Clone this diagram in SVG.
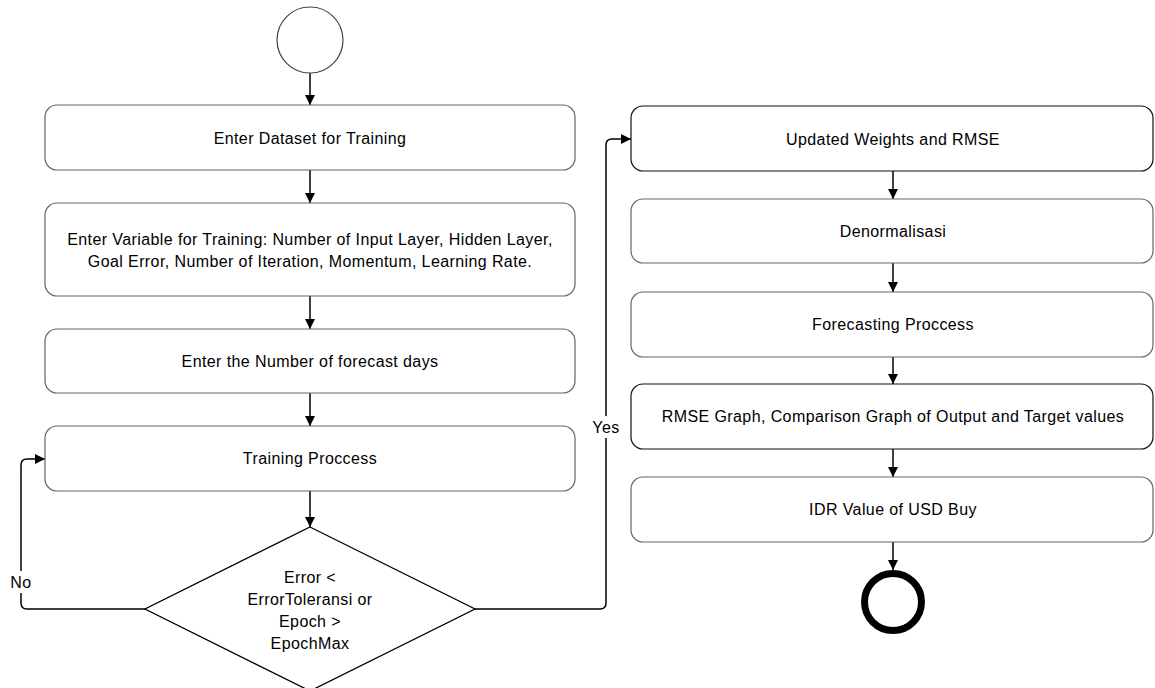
<svg xmlns="http://www.w3.org/2000/svg" width="1155" height="688" viewBox="0 0 1155 688">
<style>
.box{fill:#fff;stroke:#666;stroke-width:1.2}
.boxd{fill:#fff;stroke:#111;stroke-width:1.2}
.t{font-family:"Liberation Sans",Arial,sans-serif;font-size:16px;letter-spacing:0.4px;fill:#000;text-anchor:middle;dominant-baseline:central}
.c{fill:none;stroke:#000;stroke-width:1.5}
</style>
<defs>
<marker id="ah" viewBox="0 0 10 10" refX="10" refY="5" markerWidth="10" markerHeight="10" markerUnits="userSpaceOnUse" orient="auto">
<path d="M0,0 L10,5 L0,10 z" fill="#000"/>
</marker>
</defs>
<rect width="1155" height="688" fill="#fff"/>
<g id="connectors">
<line class="c" x1="310" y1="73" x2="310" y2="105" marker-end="url(#ah)"/>
<line class="c" x1="310" y1="170" x2="310" y2="203" marker-end="url(#ah)"/>
<line class="c" x1="310" y1="296" x2="310" y2="329" marker-end="url(#ah)"/>
<line class="c" x1="310" y1="393" x2="310" y2="426" marker-end="url(#ah)"/>
<line class="c" x1="310" y1="491" x2="310" y2="527" marker-end="url(#ah)"/>
<path class="c" d="M145,609 H27 Q21,609 21,603 V465 Q21,459 27,459 H45" marker-end="url(#ah)"/>
<path class="c" d="M475,609 H600 Q606,609 606,603 V145 Q606,139 612,139 H631" marker-end="url(#ah)"/>
<line class="c" x1="893" y1="171" x2="893" y2="199" marker-end="url(#ah)"/>
<line class="c" x1="893" y1="263" x2="893" y2="292" marker-end="url(#ah)"/>
<line class="c" x1="893" y1="357" x2="893" y2="384" marker-end="url(#ah)"/>
<line class="c" x1="893" y1="449" x2="893" y2="477" marker-end="url(#ah)"/>
<line class="c" x1="893" y1="542" x2="893" y2="570" marker-end="url(#ah)"/>
<rect x="7" y="571" width="28" height="22" fill="#fff"/>
<text class="t" x="21" y="582">No</text>
<rect x="590" y="416" width="32" height="22" fill="#fff"/>
<text class="t" x="606" y="427">Yes</text>
</g>
<g id="start"><circle cx="310" cy="40" r="33" fill="#fff" stroke="#444" stroke-width="1.2"/></g>
<g id="n1"><rect class="box" x="45" y="105" width="530" height="65" rx="12"/><text class="t" x="310" y="138">Enter Dataset for Training</text></g>
<g id="n2"><rect class="box" x="45" y="203" width="530" height="93" rx="12"/><text class="t" x="310" y="239">Enter Variable for Training: Number of Input Layer, Hidden Layer,</text><text class="t" x="310" y="261">Goal Error, Number of Iteration, Momentum, Learning Rate.</text></g>
<g id="n3"><rect class="box" x="45" y="329" width="530" height="64" rx="12"/><text class="t" x="310" y="361">Enter the Number of forecast days</text></g>
<g id="n4"><rect class="box" x="45" y="426" width="530" height="65" rx="12"/><text class="t" x="310" y="458">Training Proccess</text></g>
<g id="d1"><polygon points="310,527 475,609 310,691 145,609" fill="#fff" stroke="#000" stroke-width="1.3"/><text class="t" x="310" y="577">Error &lt;</text><text class="t" x="310" y="599">ErrorToleransi or</text><text class="t" x="310" y="621">Epoch &gt;</text><text class="t" x="310" y="643">EpochMax</text></g>
<g id="r1"><rect class="boxd" x="631" y="106" width="522" height="65" rx="12"/><text class="t" x="893" y="139">Updated Weights and RMSE</text></g>
<g id="r2"><rect class="box" x="631" y="199" width="522" height="64" rx="12"/><text class="t" x="893" y="231">Denormalisasi</text></g>
<g id="r3"><rect class="box" x="631" y="292" width="522" height="65" rx="12"/><text class="t" x="893" y="324">Forecasting Proccess</text></g>
<g id="r4"><rect class="boxd" x="631" y="384" width="522" height="65" rx="12"/><text class="t" x="893" y="416">RMSE Graph, Comparison Graph of Output and Target values</text></g>
<g id="r5"><rect class="box" x="631" y="477" width="522" height="65" rx="12"/><text class="t" x="893" y="509">IDR Value of USD Buy</text></g>
<g id="end"><circle cx="893" cy="602" r="28.5" fill="#fff" stroke="#000" stroke-width="7"/></g>
</svg>
